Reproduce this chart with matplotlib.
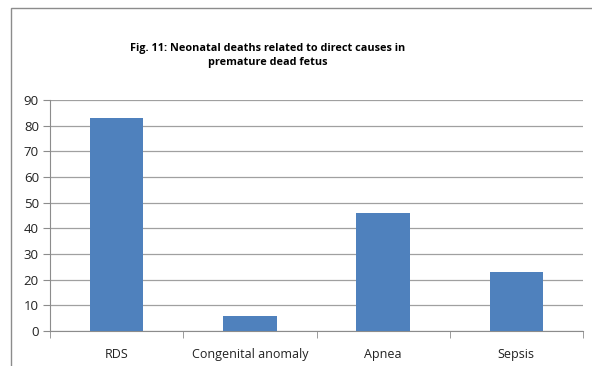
import matplotlib.pyplot as plt
from matplotlib.patches import Rectangle
import numpy as np

causes = ["RDS", "Congenital anomaly", "Apnea", "Sepsis"]
deaths = [83, 6, 46, 23]
yticks = list(range(0, 100, 10))

plt.rcParams['font.family'] = ['Open Sans', 'DejaVu Sans']

fig = plt.figure(figsize=(5.92, 3.66), dpi=100)
ax = fig.add_axes([50 / 592, 1 - 331 / 366, 533 / 592, 231 / 366])

# outer chart frame
fig.patches.append(Rectangle((11 / 592, -0.05), 1.0, 1 - 8 / 366 + 0.05,
                             transform=fig.transFigure, fill=False,
                             edgecolor="#8c8c8c", linewidth=1.0))

x = np.arange(len(causes))
ax.bar(x, deaths, width=0.4, color="#4f81bd", zorder=3)

ax.set_xlim(-0.5, len(causes) - 0.5)
ax.set_ylim(0, 90)
ax.set_yticks(yticks)
ax.yaxis.grid(True, color="#a0a0a0", linewidth=0.9, zorder=0)

ax.set_xticks(x)
ax.set_xticklabels(causes)
ax.set_xticks(np.arange(-0.5, len(causes)), minor=True)
ax.tick_params(axis="x", which="major", length=0, pad=12, labelsize=9, labelcolor="#222222")
ax.tick_params(axis="x", which="minor", length=5, color="#8c8c8c", direction="out")
ax.tick_params(axis="y", length=5, color="#8c8c8c", labelsize=9.5, labelcolor="#222222", pad=3)

for side in ["top", "right"]:
    ax.spines[side].set_visible(False)
ax.spines["left"].set_color("#8c8c8c")
ax.spines["bottom"].set_color("#8c8c8c")

fig.text(268 / 592, 1 - 48 / 366, "Fig. 11: Neonatal deaths related to direct causes in",
         ha="center", va="center", fontsize=7.8, fontweight="bold")
fig.text(268 / 592, 1 - 63 / 366, "premature dead fetus",
         ha="center", va="center", fontsize=7.8, fontweight="bold")

fig.savefig("out.png", dpi=100)
